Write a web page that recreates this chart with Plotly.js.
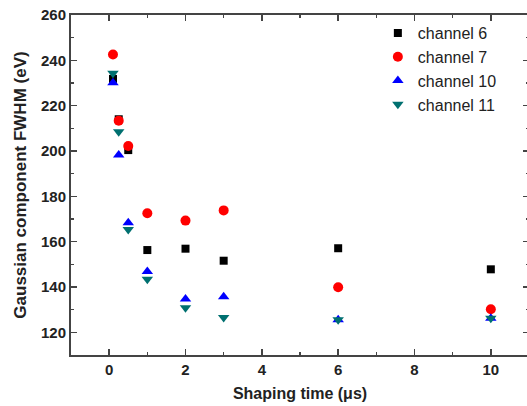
<!DOCTYPE html>
<html>
<head>
<meta charset="utf-8">
<script src="https://cdn.plot.ly/plotly-3.0.1.min.js"></script>
<style>
html,body{margin:0;padding:0;overflow:hidden;background:#fff;}
#chart{width:527px;height:406px;}
</style>
</head>
<body>
<div id="chart"></div>
<script>
var shapingTime = [0.1, 0.25, 0.5, 1, 2, 3, 6, 10];
var ch6  = [231.8, 214.0, 200.4, 156.3, 156.9, 151.6, 157.1, 147.8];
var ch7  = [242.6, 213.4, 202.2, 172.5, 169.3, 173.8, 139.9, 130.2];
var ch10 = [230.1, 198.2, 168.4, 146.8, 134.7, 135.7, 125.5, 126.2];
var ch11 = [234.3, 208.5, 165.4, 143.4, 130.9, 126.5, 125.5, 126.2];
var names = ['channel 6', 'channel 7', 'channel 10', 'channel 11'];

function tr(y, name, sym, color, size) {
  return {x: shapingTime, y: y, name: name, type: 'scatter', mode: 'markers',
    marker: {symbol: sym, color: color, size: size, line: {width: 0}}};
}
var data = [
  tr(ch6, names[0], 'square', '#000000', 8),
  tr(ch7, names[1], 'circle', '#ff0000', 10),
  tr(ch10, names[2], 'triangle-up', '#0000ff', 10),
  tr(ch11, names[3], 'triangle-down', '#007070', 10)
];
var fam = 'Liberation Sans, Arial, sans-serif';
var tickFont = {family: fam, size: 15, color: '#222', weight: 'bold'};
var axisCommon = {
  showgrid: false, zeroline: false, showline: true, linecolor: '#444', linewidth: 2,
  mirror: 'allticks', ticks: 'inside', ticklen: 6, tickwidth: 1.5, tickcolor: '#444',
  tickfont: tickFont
};
var layout = {
  width: 530, height: 406,
  margin: {l: 71, r: 1, t: 15, b: 51},
  paper_bgcolor: '#fff', plot_bgcolor: '#fff',
  showlegend: true,
  legend: {x: 0.67, y: 0.997, xanchor: 'left', yanchor: 'top', bgcolor: 'rgba(0,0,0,0)',
    font: {family: fam, size: 16, color: '#222'}, tracegroupgap: 0},
  xaxis: Object.assign({}, axisCommon, {
    range: [-1, 11], tickvals: [0, 2, 4, 6, 8, 10],
    minor: {tickvals: [-1, 1, 3, 5, 7, 9, 11], ticks: 'inside', ticklen: 3, tickwidth: 1.5, tickcolor: '#444'},
    title: {text: 'Shaping time (\u03bcs)', standoff: 11,
      font: {family: fam, size: 16, color: '#222', weight: 'bold'}}
  }),
  yaxis: Object.assign({}, axisCommon, {
    range: [110, 260], tickvals: [120, 140, 160, 180, 200, 220, 240, 260],
    minor: {tickvals: [110, 130, 150, 170, 190, 210, 230, 250], ticks: 'inside', ticklen: 3, tickwidth: 1.5, tickcolor: '#444'},
    title: {text: 'Gaussian component FWHM (eV)', standoff: 10,
      font: {family: fam, size: 17, color: '#222', weight: 'bold'}}
  })
};
Plotly.newPlot('chart', data, layout, {displayModeBar: false, staticPlot: true});
</script>
</body>
</html>
